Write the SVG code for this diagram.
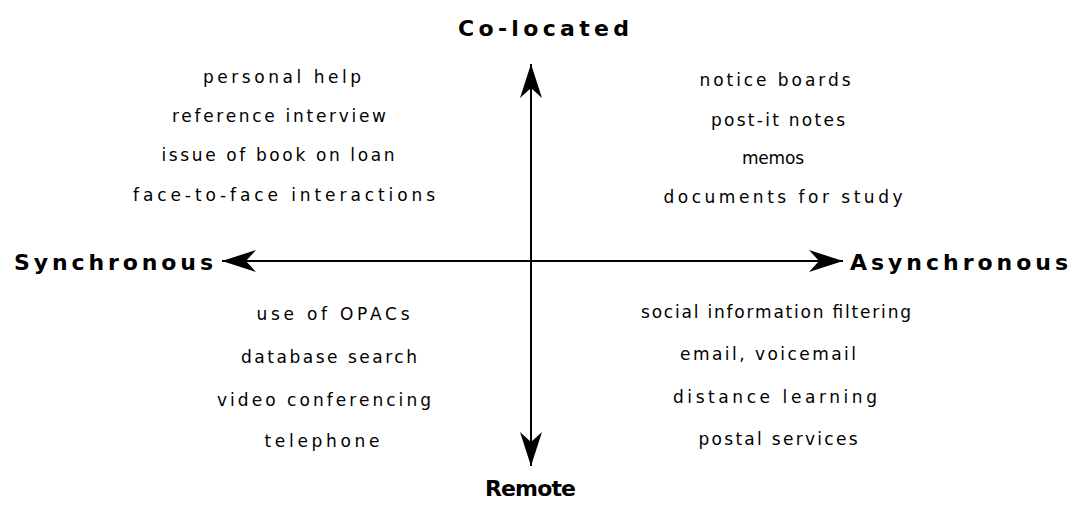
<svg xmlns="http://www.w3.org/2000/svg" width="1071" height="516" viewBox="0 0 1071 516">
<style>
.t{font-family:"DejaVu Sans","Liberation Sans",Arial,sans-serif;font-size:17px;fill:#000;text-anchor:middle}
.b{font-family:"DejaVu Sans","Liberation Sans",Arial,sans-serif;font-size:22px;font-weight:bold;fill:#000}
.ax{stroke:#000;stroke-width:2;fill:none}
</style>
<defs>
<marker id="ah" viewBox="0 0 34 22" refX="34" refY="11" markerWidth="34" markerHeight="22" markerUnits="userSpaceOnUse" orient="auto-start-reverse">
<path d="M34,11 L0,0 L10,11 L0,22 Z" fill="#000"/>
</marker>
</defs>
<rect width="1071" height="516" fill="#fff"/>
<g id="connectors">
<line class="ax" x1="531" y1="64" x2="531" y2="466" marker-start="url(#ah)" marker-end="url(#ah)"/>
<line class="ax" x1="222" y1="261" x2="843" y2="261" marker-start="url(#ah)" marker-end="url(#ah)"/>
</g>
<g id="axis-colocated"><text class="b" x="458" y="36" textLength="171" lengthAdjust="spacing">Co-located</text></g>
<g id="axis-remote"><text class="b" x="485" y="496" textLength="91" lengthAdjust="spacing">Remote</text></g>
<g id="axis-synchronous"><text class="b" x="14" y="270" textLength="199" lengthAdjust="spacing">Synchronous</text></g>
<g id="axis-asynchronous"><text class="b" x="850" y="270" textLength="218" lengthAdjust="spacing">Asynchronous</text></g>
<g id="sync-colocated">
<text class="t" x="282" y="83" textLength="158" lengthAdjust="spacing">personal help</text>
<text class="t" x="279" y="122" textLength="214" lengthAdjust="spacing">reference interview</text>
<text class="t" x="278" y="161" textLength="233" lengthAdjust="spacing">issue of book on loan</text>
<text class="t" x="284" y="201" textLength="302" lengthAdjust="spacing">face-to-face interactions</text>
</g>
<g id="async-colocated">
<text class="t" x="775" y="86" textLength="151" lengthAdjust="spacing">notice boards</text>
<text class="t" x="778" y="126" textLength="134" lengthAdjust="spacing">post-it notes</text>
<text class="t" x="773" y="164" textLength="62" lengthAdjust="spacing">memos</text>
<text class="t" x="783" y="203" textLength="239" lengthAdjust="spacing">documents for study</text>
</g>
<g id="sync-remote">
<text class="t" x="333" y="320" textLength="153" lengthAdjust="spacing">use of OPACs</text>
<text class="t" x="329" y="363" textLength="176" lengthAdjust="spacing">database search</text>
<text class="t" x="324" y="406" textLength="214" lengthAdjust="spacing">video conferencing</text>
<text class="t" x="322" y="447" textLength="115" lengthAdjust="spacing">telephone</text>
</g>
<g id="async-remote">
<text class="t" x="776" y="318" textLength="270" lengthAdjust="spacing">social information filtering</text>
<text class="t" x="768" y="360" textLength="176" lengthAdjust="spacing">email, voicemail</text>
<text class="t" x="775" y="403" textLength="204" lengthAdjust="spacing">distance learning</text>
<text class="t" x="778" y="445" textLength="159" lengthAdjust="spacing">postal services</text>
</g>
</svg>
